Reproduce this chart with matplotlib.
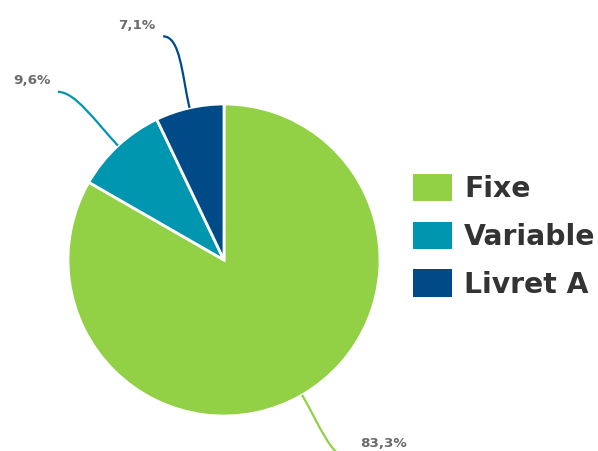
import numpy as np
import matplotlib
matplotlib.use("Agg")
import matplotlib.pyplot as plt
from matplotlib.path import Path
from matplotlib.patches import PathPatch, Patch

# Share of each rate type
categories = ["Fixe", "Variable", "Livret A"]
shares = [83.3, 9.6, 7.1]
share_labels = ["83,3%", "9,6%", "7,1%"]
colors = ["#92d046", "#0096b0", "#004b87"]

W, H = 598, 451
fig = plt.figure(figsize=(W / 100, H / 100), dpi=100)
ax = fig.add_axes([0, 0, 1, 1])

wedges, _ = ax.pie(
    shares, colors=colors, startangle=90, counterclock=False, radius=1.0,
    wedgeprops=dict(edgecolor="white", linewidth=2.0),
)

# Pie centre and radius in pixels, data units = pie radius
cx, cy, rpx = 224, H - 260, 156
ax.set_xlim(-cx / rpx, (W - cx) / rpx)
ax.set_ylim(-cy / rpx, (H - cy) / rpx)
ax.set_aspect("equal")
ax.axis("off")

ylo, yhi = ax.get_ylim()
for w, lab, col in zip(wedges, share_labels, colors):
    mid = np.deg2rad((w.theta1 + w.theta2) / 2)
    u = np.array([np.cos(mid), np.sin(mid)])
    side = 1 if u[0] >= 0 else -1
    p0 = u * 1.0
    end = u * 1.47 + np.array([side * 0.065, 0])
    p1 = u * 1.22
    p2 = end - np.array([side * 0.11, 0])
    path = Path([p0, p1, p2, end], [Path.MOVETO, Path.CURVE4, Path.CURVE4, Path.CURVE4])
    ax.add_patch(PathPatch(path, facecolor="none", edgecolor=col, lw=1.6, clip_on=True))
    tx = end[0] + side * (0.05 if side < 0 else 0.07)
    ty = min(max(end[1] + 0.07, ylo + 0.045), yhi - 0.05)
    ax.text(tx, ty, lab, ha="left" if side > 0 else "right", va="center",
            fontsize=9.7, fontweight="bold", color="#6b6b6b")

handles = [Patch(facecolor=c, edgecolor="none") for c in colors]
leg = fig.legend(
    handles, categories, loc="upper left", bbox_to_anchor=(413 / W, (H - 174) / H),
    frameon=False, borderpad=0, borderaxespad=0,
    handlelength=1.4, handleheight=1.1, handletextpad=0.42, labelspacing=0.66,
    prop=dict(weight="bold", size=20.3),
)
for t in leg.get_texts():
    t.set_color("#333333")

fig.savefig("out.png", dpi=100, facecolor="white")
